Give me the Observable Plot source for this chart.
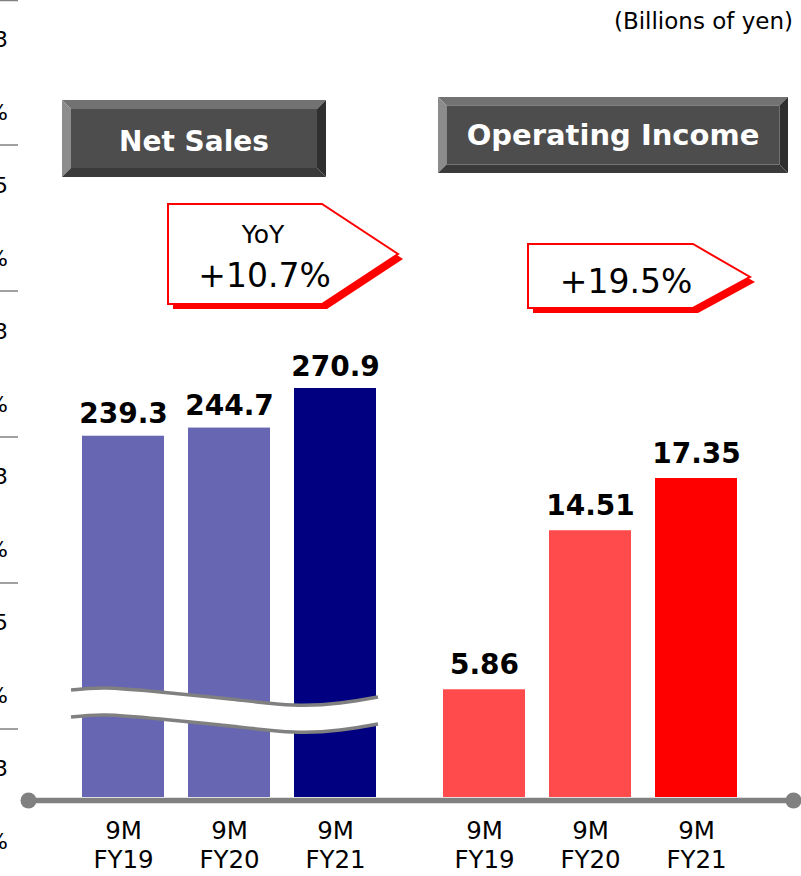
<!DOCTYPE html>
<html>
<head>
<meta charset="utf-8">
<script src="https://cdn.jsdelivr.net/npm/d3@7"></script>
<script src="https://cdn.jsdelivr.net/npm/@observablehq/plot@0.6"></script>
<style>
  html, body { margin: 0; padding: 0; background: #fff; }
  #wrap { position: relative; width: 801px; height: 876px; overflow: hidden; font-family: "DejaVu Sans", Verdana, sans-serif; }
  #wrap > svg, #wrap > div { position: absolute; left: 0; top: 0; }
</style>
</head>
<body>
<div id="wrap"></div>
<script>
// ---------- data ----------
const categories = ["9M FY19", "9M FY20", "9M FY21"];
const netSales = [239.3, 244.7, 270.9];
const operatingIncome = [5.86, 14.51, 17.35];
const panelTitles = ["Net Sales", "Operating Income"];
const yoyLabel = "YoY";
const yoyNetSales = "+10.7%";
const yoyOperatingIncome = "+19.5%";
const unitLabel = "(Billions of yen)";
const edgeGlyphs = ["3", "%", "5", "%", "3", "%", "3", "%", "5", "%", "3", "%"];

// ---------- styles ----------
const FONT = "DejaVu Sans, Verdana, sans-serif";
const lavender = "#6666b2", navy = "#000080";
const pink = "#ff4b4b", red = "#ff0000";
const axisGray = "#808080";

const wrap = document.getElementById("wrap");
const W = 801, H = 876, baseY = 797;

const nsRows = categories.map((c, i) => ({cat: c, value: netSales[i]}));
const oiRows = categories.map((c, i) => ({cat: c, value: operatingIncome[i]}));

const common = {
  width: W, height: H, marginTop: 0, marginBottom: H - baseY, marginLeft: 28, marginRight: 8,
  style: {background: "transparent", fontFamily: FONT, overflow: "visible"},
  color: {type: "identity"}
};

const xLabels = (cats) => Plot.text(cats, {
  x: d => d, frameAnchor: "bottom", text: d => d.replace(" ", "\n"),
  lineAnchor: "top", dy: 20.5, fontSize: 24.5, lineHeight: 1.2, fill: "black"
});

const left = Plot.plot({
  ...common,
  x: {type: "band", domain: categories, range: [81, 376], paddingInner: 0.23, paddingOuter: 0, axis: null},
  y: {domain: [0, 527.9], axis: null},
  marks: [
    Plot.barY(nsRows, {x: "cat", y: "value", fill: d => d.cat === "9M FY21" ? navy : lavender}),
    Plot.text(nsRows, {x: "cat", y: "value", text: d => d.value.toFixed(1), dy: -13, lineAnchor: "bottom",
      fontSize: 28, fontWeight: "bold", fill: "black"}),
    xLabels(categories)
  ]
});

const right = Plot.plot({
  ...common,
  x: {type: "band", domain: categories, range: [442, 739], paddingInner: 0.224, paddingOuter: 0, axis: null},
  y: {domain: [0, 43.35], axis: null},
  marks: [
    Plot.barY(oiRows, {x: "cat", y: "value", fill: d => d.cat === "9M FY21" ? red : pink}),
    Plot.text(oiRows, {x: "cat", y: "value", text: d => d.value.toFixed(2), dy: -16, lineAnchor: "bottom",
      fontSize: 28, fontWeight: "bold", fill: "black"}),
    xLabels(categories),
    Plot.ruleY([0], {dy: 3, stroke: axisGray, strokeWidth: 5.5}),
    Plot.dot([0], {y: d => d, frameAnchor: "left", dy: 3, r: 8, fill: axisGray, stroke: "none"}),
    Plot.dot([0], {y: d => d, frameAnchor: "right", dy: 3, r: 8, fill: axisGray, stroke: "none"})
  ]
});

wrap.appendChild(left);
wrap.appendChild(right);

// ---------- decorations overlay ----------
const svg = d3.select(wrap).append("svg")
  .attr("width", W).attr("height", H)
  .style("font-family", FONT);

// cropped edge of neighbouring slide
edgeGlyphs.forEach((g, i) => {
  svg.append("text").attr("x", 8).attr("y", 47 + i * 72.9)
    .attr("text-anchor", "end").attr("font-size", 22).attr("fill", "black").text(g);
});
[0.5, 145, 291, 437, 583, 729].forEach(y => {
  svg.append("line").attr("x1", 0).attr("x2", 18).attr("y1", y).attr("y2", y)
    .attr("stroke", axisGray).attr("stroke-width", 1.5);
});

// unit
svg.append("text").attr("x", 793).attr("y", 29).attr("text-anchor", "end")
  .attr("font-size", 23).attr("fill", "black").text(unitLabel);

// bevelled title boxes
function bevelBox(x0, y0, x1, y1, b, label, fs, by) {
  const g = svg.append("g");
  const xi0 = x0 + b, yi0 = y0 + b, xi1 = x1 - b, yi1 = y1 - b;
  const poly = (pts, c) => g.append("polygon").attr("points", pts.map(p => p.join(",")).join(" ")).attr("fill", c);
  poly([[x0, y0], [x1, y0], [xi1, yi0], [xi0, yi0]], "#727272");
  poly([[x0, y0], [xi0, yi0], [xi0, yi1], [x0, y1]], "#8c8c8c");
  poly([[x1, y0], [x1, y1], [xi1, yi1], [xi1, yi0]], "#2f2f2f");
  poly([[x0, y1], [xi0, yi1], [xi1, yi1], [x1, y1]], "#3a3a3a");
  g.append("rect").attr("x", xi0).attr("y", yi0).attr("width", xi1 - xi0).attr("height", yi1 - yi0).attr("fill", "#4d4d4d");
  g.append("text").attr("x", (x0 + x1) / 2).attr("y", by).attr("text-anchor", "middle")
    .attr("font-size", fs).attr("font-weight", "bold").attr("fill", "white").text(label);
}
bevelBox(62, 100, 326, 177, 9, panelTitles[0], 28, 151);
bevelBox(438, 97, 788, 173, 8.5, panelTitles[1], 29, 145);

// callout arrows
function callout(pts, lines) {
  const s = pts.map(p => p.join(",")).join(" ");
  const sh = pts.map(p => [p[0] + 5, p[1] + 5].join(",")).join(" ");
  svg.append("polygon").attr("points", sh).attr("fill", red);
  svg.append("polygon").attr("points", s).attr("fill", "white").attr("stroke", red).attr("stroke-width", 2);
  lines.forEach(l => svg.append("text").attr("x", l.x).attr("y", l.y).attr("text-anchor", "middle")
    .attr("font-size", l.fs).attr("fill", "black").text(l.t));
}
callout([[168, 204], [322, 204], [398, 254], [322, 304], [168, 304]],
  [{t: yoyLabel, x: 263, y: 243, fs: 25}, {t: yoyNetSales, x: 264.5, y: 286.5, fs: 33}]);
callout([[528, 244], [693, 244], [750, 277], [693, 308], [528, 308]],
  [{t: yoyOperatingIncome, x: 626, y: 292.5, fs: 33}]);

// axis break on net sales bars
const up = [[71, 690], [106, 688], [160, 692], [230, 699], [293, 705], [340, 703], [378, 697]];
const gap = 27;
const area = d3.area().x(d => d[0]).y0(d => d[1] + gap).y1(d => d[1]).curve(d3.curveNatural);
const line = d3.line().curve(d3.curveNatural);
svg.append("path").attr("d", area(up)).attr("fill", "white");
svg.append("path").attr("d", line(up)).attr("fill", "none").attr("stroke", axisGray).attr("stroke-width", 3.5);
svg.append("path").attr("d", line(up.map(p => [p[0], p[1] + gap]))).attr("fill", "none").attr("stroke", axisGray).attr("stroke-width", 3.5);
</script>
</body>
</html>
